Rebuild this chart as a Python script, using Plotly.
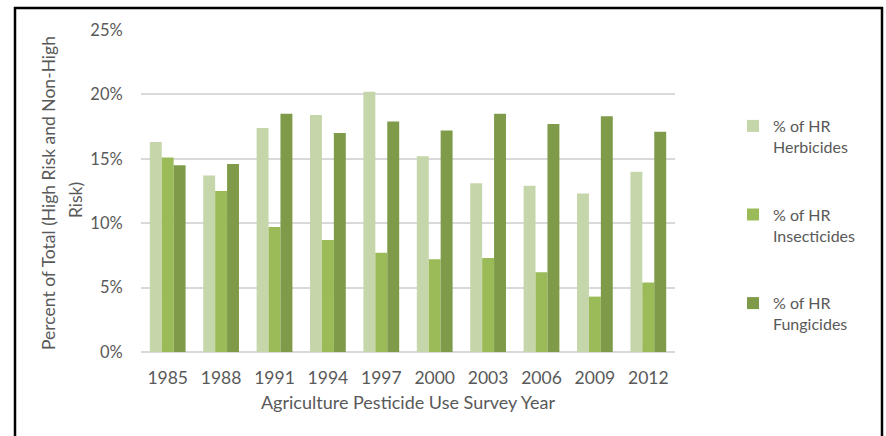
import plotly.graph_objects as go

years = ["1985", "1988", "1991", "1994", "1997", "2000", "2003", "2006", "2009", "2012"]
herbicides = [16.3, 13.7, 17.4, 18.4, 20.2, 15.2, 13.1, 12.9, 12.3, 14.0]
insecticides = [15.1, 12.5, 9.7, 8.7, 7.7, 7.2, 7.3, 6.2, 4.3, 5.4]
fungicides = [14.5, 14.6, 18.5, 17.0, 17.9, 17.2, 18.5, 17.7, 18.3, 17.1]
series_names = ["% of HR<br>Herbicides", "% of HR<br>Insecticides", "% of HR<br>Fungicides"]
series_colors = ["#C6D6AB", "#9BBB59", "#7F9B4A"]
y_title_lines = ["Percent of Total (High Risk and Non-High", "Risk)"]

FONT = "Lato, Carlito, 'Open Sans', sans-serif"
GRAY = "#595959"

fig = go.Figure()
for i, (vals, name, col) in enumerate(zip([herbicides, insecticides, fungicides], series_names, series_colors)):
    fig.add_trace(go.Bar(
        x=years, y=[v / 100 for v in vals], name=name,
        marker=dict(color=col, line=dict(width=0)),
        legendgroup=f"g{i}",
    ))

W, H = 886, 436
L, R, T, B = 141, 211, 30, 84
pw, ph = W - L - R, H - T - B

def px_x(x):
    return (x - L) / pw

def px_y(y):
    return 1 - (y - T) / ph

annotations = [
    dict(text=y_title_lines[0], xref="paper", yref="paper", x=px_x(48), y=px_y(193),
         xanchor="center", yanchor="middle", textangle=-90, showarrow=False,
         font=dict(family=FONT, size=17.5, color=GRAY)),
    dict(text=y_title_lines[1], xref="paper", yref="paper", x=px_x(75), y=px_y(200),
         xanchor="center", yanchor="middle", textangle=-90, showarrow=False,
         font=dict(family=FONT, size=17.5, color=GRAY)),
]

fig.update_layout(
    width=W, height=H,
    margin=dict(l=L, r=R, t=T, b=B, autoexpand=False),
    paper_bgcolor="white", plot_bgcolor="white",
    barmode="group", bargap=0.33, bargroupgap=0,
    font=dict(family=FONT, color=GRAY, size=16),
    showlegend=True,
    legend=dict(
        x=px_x(733), y=px_y(109), xanchor="left", yanchor="top",
        font=dict(family=FONT, size=16, color=GRAY),
        tracegroupgap=44, valign="top", itemwidth=30,
        bgcolor="rgba(0,0,0,0)",
    ),
    xaxis=dict(
        type="category", showgrid=False, showline=False, zeroline=False,
        ticks="outside", ticklen=10, tickcolor="rgba(0,0,0,0)",
        tickfont=dict(family=FONT, size=17.5, color=GRAY),
        title=dict(text="Agriculture Pesticide Use Survey Year",
                   font=dict(family=FONT, size=18, color=GRAY), standoff=9),
        automargin=False,
    ),
    yaxis=dict(
        range=[0, 0.25], dtick=0.05, tickformat=".0%",
        showgrid=True, gridcolor="#D9D9D9", gridwidth=1.5,
        zeroline=True, zerolinecolor="#D9D9D9", zerolinewidth=1.5,
        showline=False,
        ticks="outside", ticklen=14, tickcolor="rgba(0,0,0,0)",
        tickfont=dict(family=FONT, size=16.5, color=GRAY),
        automargin=False,
    ),
    annotations=annotations,
    shapes=[
        dict(type="path", xref="paper", yref="paper",
             path=f"M {px_x(15)} {px_y(460)} L {px_x(15)} {px_y(8)} L {px_x(882)} {px_y(8)} L {px_x(882)} {px_y(460)}",
             line=dict(color="black", width=2.5)),
    ],
)

fig.write_html("out.html")
